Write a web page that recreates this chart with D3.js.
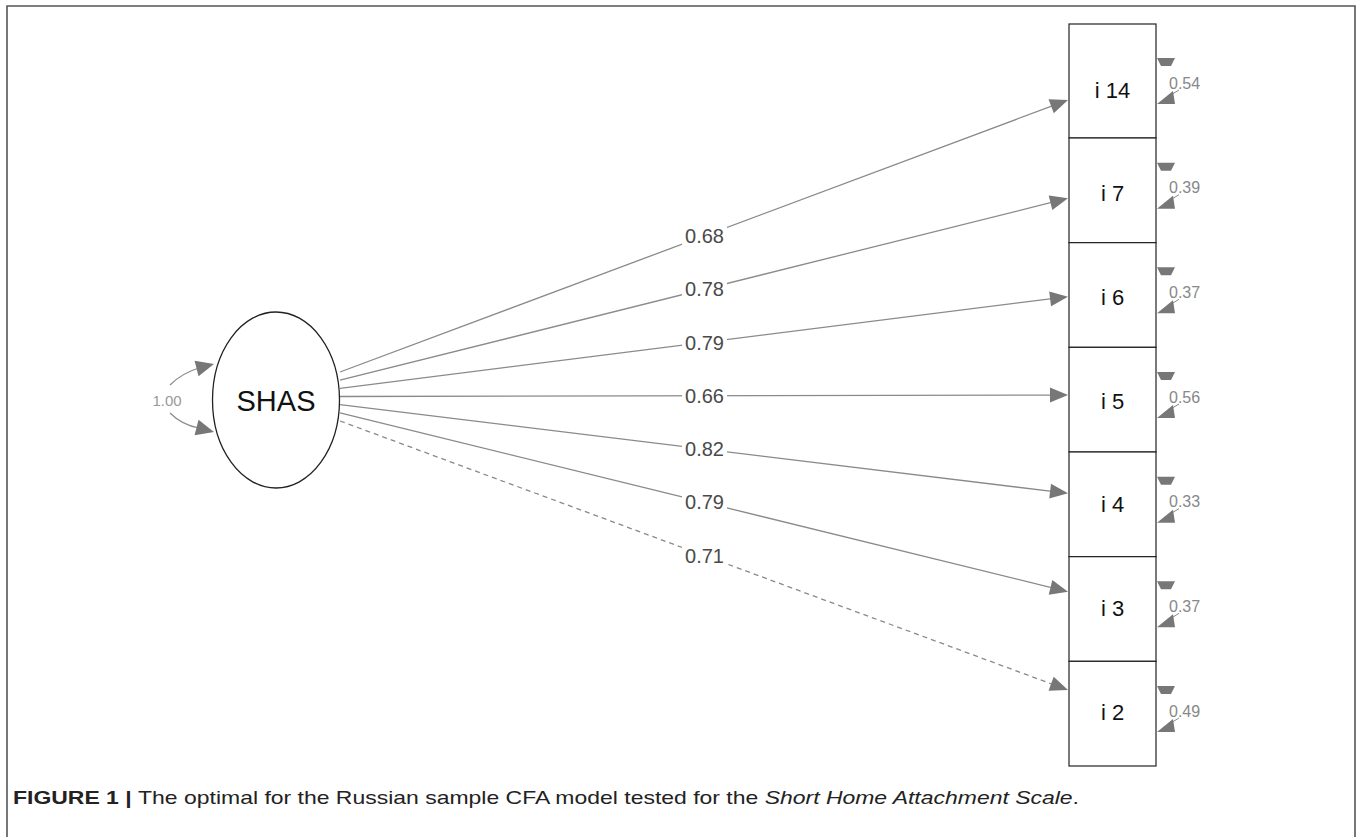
<!DOCTYPE html>
<html>
<head>
<meta charset="utf-8">
<script src="https://cdn.jsdelivr.net/npm/d3@7/dist/d3.min.js"></script>
<style>
  html, body { margin: 0; padding: 0; background: #fff; }
  svg { display: block; }
</style>
</head>
<body>
<svg id="chart" width="1357" height="837"></svg>
<script>
// CFA path diagram: one latent factor (SHAS) with seven indicators
const latentName = "SHAS";
const latentVariance = "1.00";
const items = ["i 14", "i 7", "i 6", "i 5", "i 4", "i 3", "i 2"];
const loadings = [0.68, 0.78, 0.79, 0.66, 0.82, 0.79, 0.71];
const residuals = [0.54, 0.39, 0.37, 0.56, 0.33, 0.37, 0.49];
const dashed = [false, false, false, false, false, false, true];
const captionBold = "FIGURE 1 | ";
const captionText = "The optimal for the Russian sample CFA model tested for the ";
const captionItalic = "Short Home Attachment Scale";
const captionEnd = ".";

const svg = d3.select("#chart");
const W = 1357, H = 837;
const idx = d3.range(items.length);
const fmt = d3.format(".2f");

// frame
svg.append("path")
  .attr("d", `M7,${H} L7,6 L1355,6 L1355,${H}`)
  .attr("fill", "none").attr("stroke", "#555").attr("stroke-width", 1.6);

// scales
const boxX = d3.scaleLinear().domain([0, 1]).range([1069, 1156]);
const edgeY = d3.scaleLinear().domain([1, items.length]).range([138, 766]);
const tipY = d3.scaleLinear().domain([0, items.length - 1]).range([100, 690]);
const startY = d3.scaleLinear().domain([0, items.length - 1]).range([372, 421]);
const labelY = d3.scaleLinear().domain([0, items.length - 1]).range([90, 712]);
const resY = d3.scaleLinear().domain([0, items.length - 1]).range([62, 690]);

const ell = { cx: 276, cy: 400, rx: 63.5, ry: 88 };
const lineColor = "#8a8a8a", headColor = "#777";

function arrowHead(g, x, y, angle, len, half, color) {
  const c = Math.cos(angle), s = Math.sin(angle);
  const bx = x - c * len, by = y - s * len;
  const pts = [[x, y], [bx - s * half, by + c * half], [bx + s * half, by - c * half]];
  g.append("polygon").attr("points", pts.map(p => p.join(",")).join(" ")).attr("fill", color);
}

// loading paths
const paths = svg.append("g");
idx.forEach(i => {
  const x1 = 340, y1 = startY(i), x2 = boxX(0) - 1, y2 = tipY(i);
  const ang = Math.atan2(y2 - y1, x2 - x1);
  paths.append("line")
    .attr("x1", x1).attr("y1", y1)
    .attr("x2", x2 - Math.cos(ang) * 14).attr("y2", y2 - Math.sin(ang) * 14)
    .attr("stroke", lineColor).attr("stroke-width", 1.3)
    .attr("stroke-dasharray", dashed[i] ? "5,4" : null);
  arrowHead(paths, x2, y2, ang, 18, 7.5, headColor);
});

// loading labels at path midpoints
const lab = svg.append("g");
idx.forEach(i => {
  const mx = (340 + boxX(0)) / 2, my = (startY(i) + tipY(i)) / 2;
  const t = lab.append("text")
    .attr("x", mx).attr("y", my)
    .attr("text-anchor", "middle").attr("dominant-baseline", "central")
    .attr("font-family", "Liberation Sans, Arial, sans-serif")
    .attr("font-size", 20).attr("fill", "#4a4a4a")
    .text(fmt(loadings[i]));
  const bb = t.node().getBBox();
  lab.insert("rect", "text")
    .attr("x", bb.x - 3).attr("y", bb.y + 2).attr("width", bb.width + 6).attr("height", bb.height - 4)
    .attr("fill", "#fff");
});

// latent ellipse
svg.append("ellipse")
  .attr("cx", ell.cx).attr("cy", ell.cy).attr("rx", ell.rx).attr("ry", ell.ry)
  .attr("fill", "#fff").attr("stroke", "#222").attr("stroke-width", 1.3);
svg.append("text")
  .attr("x", ell.cx).attr("y", ell.cy + 1)
  .attr("text-anchor", "middle").attr("dominant-baseline", "central")
  .attr("font-family", "Liberation Sans, Arial, sans-serif")
  .attr("font-size", 29).attr("fill", "#111")
  .text(latentName);

// latent variance loop
const lv = svg.append("g");
lv.append("path").attr("d", "M170,385 Q182,373 199,368")
  .attr("fill", "none").attr("stroke", lineColor).attr("stroke-width", 1.2);
lv.append("path").attr("d", "M170,413 Q182,425 199,428")
  .attr("fill", "none").attr("stroke", lineColor).attr("stroke-width", 1.2);
arrowHead(lv, 214, 364, -0.25, 18, 8, headColor);
arrowHead(lv, 214, 432, 0.25, 18, 8, headColor);
lv.append("text")
  .attr("x", 167).attr("y", 400)
  .attr("text-anchor", "middle").attr("dominant-baseline", "central")
  .attr("font-family", "Liberation Sans, Arial, sans-serif")
  .attr("font-size", 15).attr("fill", "#999")
  .text(latentVariance);

// indicator boxes
const boxes = svg.append("g");
idx.forEach(i => {
  const top = i === 0 ? 24 : edgeY(i);
  const bottom = edgeY(i + 1);
  boxes.append("rect")
    .attr("x", boxX(0)).attr("y", top)
    .attr("width", boxX(1) - boxX(0)).attr("height", bottom - top)
    .attr("fill", "#fff").attr("stroke", "#222").attr("stroke-width", 1.2);
  boxes.append("text")
    .attr("x", (boxX(0) + boxX(1)) / 2).attr("y", labelY(i))
    .attr("text-anchor", "middle").attr("dominant-baseline", "central")
    .attr("font-family", "Liberation Sans, Arial, sans-serif")
    .attr("font-size", 22).attr("fill", "#111")
    .text(items[i]);
});

// residual variances
const res = svg.append("g");
idx.forEach(i => {
  const y0 = resY(i), xe = boxX(1) + 1;
  res.append("polygon")
    .attr("points", [[xe, y0 - 4], [xe + 18, y0 - 4], [xe + 14, y0 + 4], [xe + 4, y0 + 4]].map(p => p.join(",")).join(" "))
    .attr("fill", headColor);
  const hy = y0 + 40;
  res.append("line")
    .attr("x1", xe + 12).attr("y1", hy - 6).attr("x2", xe + 22).attr("y2", hy - 12)
    .attr("stroke", lineColor).attr("stroke-width", 1);
  res.append("polygon")
    .attr("points", [[xe, hy + 2], [xe + 16, hy - 11], [xe + 18, hy + 2]].map(p => p.join(",")).join(" "))
    .attr("fill", headColor);
  res.append("text")
    .attr("x", xe + 12).attr("y", y0 + 21)
    .attr("dominant-baseline", "central")
    .attr("font-family", "Liberation Sans, Arial, sans-serif")
    .attr("font-size", 16).attr("fill", "#888")
    .text(fmt(residuals[i]));
});

// caption
const cap = svg.append("text")
  .attr("x", 13).attr("y", 804)
  .attr("font-family", "Liberation Sans, Arial, sans-serif")
  .attr("font-size", 19).attr("fill", "#222")
  .attr("textLength", 1066).attr("lengthAdjust", "spacingAndGlyphs");
cap.append("tspan").attr("font-weight", "bold").text(captionBold);
cap.append("tspan").text(captionText);
cap.append("tspan").attr("font-style", "italic").text(captionItalic);
cap.append("tspan").text(captionEnd);
</script>
</body>
</html>
